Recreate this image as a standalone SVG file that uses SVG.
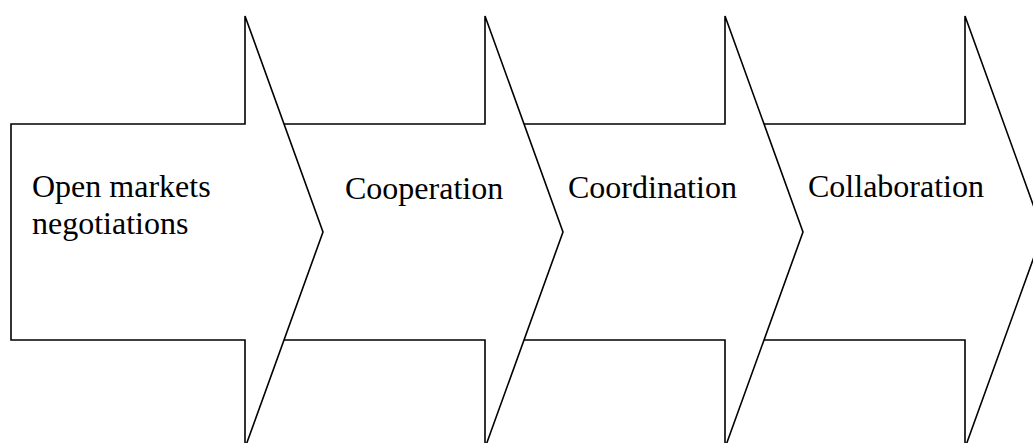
<svg xmlns="http://www.w3.org/2000/svg" width="1033" height="443" viewBox="0 0 1033 443">
<style>
.arrow{fill:#fff;stroke:#000;stroke-width:1.6;stroke-linejoin:miter}
.lbl{font-family:"Liberation Serif","Times New Roman",serif;font-size:32px;fill:#000}
</style>
<rect width="1033" height="443" fill="#fff"/>
<g id="node4">
<path class="arrow" d="M 740,124 H 965 V 16 L 1043,232 L 965,448 V 340 H 740 Z"/>
<text class="lbl" x="808" y="197">Collaboration</text>
</g>
<g id="node3">
<path class="arrow" d="M 500,124 H 725 V 16 L 803,232 L 725,448 V 340 H 500 Z"/>
<text class="lbl" x="568" y="198">Coordination</text>
</g>
<g id="node2">
<path class="arrow" d="M 260,124 H 485 V 16 L 563,232 L 485,448 V 340 H 260 Z"/>
<text class="lbl" x="345" y="199">Cooperation</text>
</g>
<g id="node1">
<path class="arrow" d="M 11,124 H 245 V 16 L 323,232 L 245,448 V 340 H 11 Z"/>
<text class="lbl" x="32" y="197">Open markets</text>
<text class="lbl" x="32" y="234">negotiations</text>
</g>
<g id="connectors"></g>
</svg>
